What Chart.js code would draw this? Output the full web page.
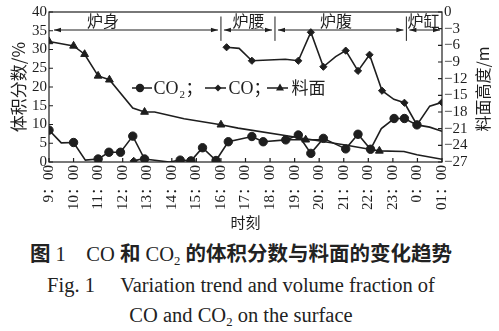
<!DOCTYPE html>
<html>
<head>
<meta charset="utf-8">
<script src="https://cdn.jsdelivr.net/npm/chart.js@4.4.1/dist/chart.umd.min.js"></script>
<style>
html, body { margin: 0; padding: 0; background: #fff; }
#wrap { position: absolute; left: 0; top: 0; width: 499px; height: 236px; }
.cap { position: absolute; left: 0; width: 482px; text-align: center; color: #222; white-space: nowrap;
       font-family: "Liberation Serif", "Noto Sans CJK SC", serif; line-height: 22px; font-size: 20.5px; }
.cap sub { font-size: 0.62em; vertical-align: baseline; position: relative; top: 0.3em; }
.cap .hz { font-family: "Noto Sans CJK SC", sans-serif; font-weight: bold; font-size: 20.5px; }
#c1 { top: 241px; }
#c2 { top: 274px; }
#c3 { top: 304px; }
</style>
</head>
<body>
<div id="wrap"><canvas id="chart" width="499" height="236"></canvas></div>
<div class="cap" id="c1"><span class="hz">图</span> 1　CO <span class="hz">和</span> CO<sub>2</sub> <span class="hz">的体积分数与料面的变化趋势</span></div>
<div class="cap" id="c2">Fig. 1　 Variation trend and volume fraction of</div>
<div class="cap" id="c3">CO and CO<sub>2</sub> on the surface</div>
<script>
// x ticks: hours from 9:00 to 01:00 next day (25 = 01:00)
var hourLabels = ["9：00","10：00","11：00","12：00","13：00","14：00","15：00","16：00","17：00",
                  "18：00","19：00","20：00","21：00","22：00","23：00","0：00","01：00"];

// CO2 volume fraction, %
var co2Time  = [9.0, 9.5, 10.0, 10.48, 11.0, 11.44, 11.91, 12.41, 12.89, 13.9,
                14.34, 14.78, 15.25, 15.8, 16.3, 17.26, 17.72, 18.64, 19.15, 19.66,
                20.17, 21.08, 21.58, 22.09, 22.53, 23.05, 23.47, 23.98, 24.5, 25.0];
var co2Value = [8.5, 5.1, 5.2, 0.5, 0.8, 2.6, 2.6, 6.9, 0.8, 0.0,
                0.5, 0.3, 3.8, 0.4, 5.4, 6.8, 5.4, 5.9, 7.2, 2.3,
                6.3, 3.5, 7.4, 3.4, 8.9, 11.6, 11.6, 9.9, 9.3, 8.2];

// CO volume fraction, % (null = gap)
var coTime  = [12.45, 12.9, 14.5, 16.23, 16.74, 17.26, 18.62, 19.15, 19.66, 20.17,
               20.67, 21.08, 21.58, 22.05, 22.56, 23.04, 23.47, 23.98, 24.5, 25.0];
var coValue = [0.3, 1.0, null, 30.6, 30.3, 27.0, 27.4, 27.0, 34.6, 25.4,
               28.1, 29.7, 24.3, 28.6, 19.0, 16.7, 15.8, 9.9, 14.9, 15.9];

// burden surface height, m (right axis)
var surfTime   = [9.0, 10.0, 10.45, 11.0, 11.46, 12.41, 12.89, 13.3, 14.5, 16.0,
                  16.7, 19.0, 21.0, 22.05, 22.45, 23.45, 23.98, 25.0];
var surfHeight = [-5.3, -6.1, -7.6, -11.5, -12.2, -17.3, -18.0, -18.0, -19.2, -20.3,
                  -20.9, -22.5, -23.9, -24.7, -25.0, -25.1, -25.7, -26.5];
var surfStubTime   = [18.64, 19.45, 20.16];
var surfStubHeight = [-23.0, -23.0, -23.0];

// furnace zones
var zoneNames  = ["炉身", "炉腰", "炉腹", "炉缸"];
var zoneBounds = [9, 16.0, 18.2, 23.55, 25];
var zoneLabelAt = [11.2, 17.12, 20.68, 24.25];

// style
var ink = "#1e1e1e";
var serif = '"Liberation Serif", "Noto Sans CJK SC", serif';
var cjk = '"Noto Sans CJK SC", sans-serif';
var co2Plain  = [9.5, 10.48, 13.9, 22.53, 24.5, 25.0];
var coPlain   = [12.9, 16.74, 18.62, 20.67, 23.04, 24.5];
var surfPlain = [12.41, 13.3, 14.5, 16.7, 19.0, 21.0, 22.05, 23.45, 23.98, 25.0, 18.64, 20.16];

function pts(t, v) {
  return t.map(function(x, i){ return {x: x, y: v[i]}; });
}
function radius(plain, r) {
  return function(c) {
    var p = c.raw;
    return (p && plain.indexOf(p.x) >= 0) ? 0 : r;
  };
}
function series(label, data, axis, style, plain, r) {
  return {
    label: label, data: data, yAxisID: axis,
    borderColor: ink, backgroundColor: ink, borderWidth: 1.6,
    pointStyle: style, pointRadius: radius(plain, r), pointHoverRadius: radius(plain, r),
    pointBorderWidth: 1, tension: 0, spanGaps: false
  };
}

function arrowHead(ctx, x, y, dir) {
  ctx.beginPath();
  ctx.moveTo(x, y);
  ctx.lineTo(x - dir * 7, y - 2.3);
  ctx.lineTo(x - dir * 7, y + 2.3);
  ctx.closePath();
  ctx.fill();
}

var decor = {
  id: 'decor',
  afterDatasetsDraw: function(chart) {
    var ctx = chart.ctx, a = chart.chartArea;
    var xs = chart.scales.x, yl = chart.scales.y, yr = chart.scales.y2;
    ctx.save();
    ctx.strokeStyle = ink;
    ctx.fillStyle = ink;
    ctx.lineWidth = 1.2;
    ctx.strokeRect(a.left, a.top, a.right - a.left, a.bottom - a.top);

    // inward tick marks
    ctx.beginPath();
    xs.ticks.forEach(function(t){
      var px = xs.getPixelForValue(t.value);
      ctx.moveTo(px, a.bottom); ctx.lineTo(px, a.bottom - 4);
    });
    yl.ticks.forEach(function(t){
      var py = yl.getPixelForValue(t.value);
      ctx.moveTo(a.left, py); ctx.lineTo(a.left + 4, py);
    });
    yr.ticks.forEach(function(t){
      var py = yr.getPixelForValue(t.value);
      ctx.moveTo(a.right, py); ctx.lineTo(a.right - 4, py);
    });
    ctx.stroke();

    // zones
    var yArrow = yl.getPixelForValue(35.2);
    var yText = yl.getPixelForValue(37.6);
    ctx.lineWidth = 1;
    ctx.font = '16px ' + cjk;
    ctx.textAlign = 'center';
    ctx.textBaseline = 'middle';
    for (var i = 0; i < zoneNames.length; i++) {
      var x0 = xs.getPixelForValue(zoneBounds[i]) + (i === 0 ? 5 : 3);
      var x1 = xs.getPixelForValue(zoneBounds[i + 1]) - (i === zoneNames.length - 1 ? 2 : 3);
      ctx.beginPath(); ctx.moveTo(x0, yArrow); ctx.lineTo(x1, yArrow); ctx.stroke();
      arrowHead(ctx, x0, yArrow, -1);
      arrowHead(ctx, x1, yArrow, 1);
      ctx.fillText(zoneNames[i], xs.getPixelForValue(zoneLabelAt[i]), yText);
      if (i > 0) {
        var xd = xs.getPixelForValue(zoneBounds[i]);
        ctx.beginPath();
        ctx.moveTo(xd, yl.getPixelForValue(32.3));
        ctx.lineTo(xd, yl.getPixelForValue(38.8));
        ctx.stroke();
      }
    }

    // legend
    var ly = a.top + 76, lx = a.left;
    ctx.lineWidth = 1.6;
    ctx.beginPath();
    ctx.moveTo(lx + 83, ly); ctx.lineTo(lx + 103, ly);
    ctx.moveTo(lx + 156, ly); ctx.lineTo(lx + 177, ly);
    ctx.moveTo(lx + 218, ly); ctx.lineTo(lx + 239, ly);
    ctx.stroke();
    ctx.beginPath(); ctx.arc(lx + 91, ly, 4.2, 0, Math.PI * 2); ctx.fill();
    ctx.beginPath();
    ctx.moveTo(lx + 169, ly - 3.5); ctx.lineTo(lx + 172.5, ly); ctx.lineTo(lx + 169, ly + 3.5); ctx.lineTo(lx + 165.5, ly);
    ctx.closePath(); ctx.fill();
    ctx.beginPath();
    ctx.moveTo(lx + 231, ly - 4.5); ctx.lineTo(lx + 235, ly + 2.5); ctx.lineTo(lx + 227, ly + 2.5);
    ctx.closePath(); ctx.fill();

    ctx.textAlign = 'left';
    ctx.textBaseline = 'alphabetic';
    var base = ly + 6;
    ctx.font = '18px ' + serif;
    ctx.fillText('CO', lx + 104.5, base);
    var w = ctx.measureText('CO').width;
    ctx.font = '11px ' + serif;
    ctx.fillText('2', lx + 104.5 + w + 1, base + 4);
    ctx.font = '17px ' + cjk;
    ctx.fillText('；', lx + 104.5 + w + 7, base);
    ctx.font = '18px ' + serif;
    ctx.fillText('CO', lx + 179.5, base);
    w = ctx.measureText('CO').width;
    ctx.font = '17px ' + cjk;
    ctx.fillText('；', lx + 179.5 + w, base);
    ctx.fillText('料面', lx + 242.5, base);

    // right axis title
    ctx.translate(a.right + 41, (a.top + a.bottom) / 2 + 2);
    ctx.rotate(-Math.PI / 2);
    ctx.textAlign = 'center';
    ctx.textBaseline = 'middle';
    ctx.font = '16px ' + cjk;
    ctx.fillText('料面高度/m', 0, 0);
    ctx.restore();
  }
};

new Chart(document.getElementById('chart'), {
  type: 'line',
  data: {
    datasets: [
      series('CO₂', pts(co2Time, co2Value), 'y', 'circle', co2Plain, 4.2),
      series('CO', pts(coTime, coValue), 'y', 'rectRot', coPlain, 3.6),
      series('料面', pts(surfTime, surfHeight), 'y2', 'triangle', surfPlain, 4.5),
      series('料面', pts(surfStubTime, surfStubHeight), 'y2', 'triangle', surfPlain, 4.5)
    ]
  },
  options: {
    responsive: false,
    animation: false,
    layout: { padding: { top: 12, left: 0, right: 0, bottom: 0 } },
    plugins: { legend: { display: false }, tooltip: { enabled: false } },
    scales: {
      x: {
        type: 'linear', min: 9, max: 25,
        afterFit: function(s){ s.height = 74; },
        ticks: {
          stepSize: 1, autoSkip: false, maxRotation: 90, minRotation: 90, padding: 3,
          color: ink, font: { family: serif, size: 15 },
          callback: function(v){ return hourLabels[Math.round(v - 9)]; }
        },
        grid: { display: false, drawTicks: false },
        border: { display: false },
        title: { display: true, text: '时刻', color: ink, font: { family: cjk, size: 15 }, padding: { top: 0, bottom: 5 } }
      },
      y: {
        position: 'left', min: 0, max: 40,
        afterFit: function(s){ s.width = 49; },
        ticks: { stepSize: 5, autoSkip: false, padding: 2, color: ink, font: { family: serif, size: 15 } },
        grid: { display: false, drawTicks: false },
        border: { display: false },
        title: { display: true, text: '体积分数/%', color: ink, font: { family: cjk, size: 17 }, padding: { top: 8, bottom: 0 } }
      },
      y2: {
        position: 'right', min: -27, max: 0,
        afterFit: function(s){ s.width = 57; },
        ticks: {
          stepSize: 3, autoSkip: false, padding: 2, color: ink, font: { family: serif, size: 15 },
          callback: function(v){ return v < 0 ? '−' + (-v) : String(v); }
        },
        grid: { display: false, drawTicks: false },
        border: { display: false }
      }
    }
  },
  plugins: [decor]
});
</script>
</body>
</html>
